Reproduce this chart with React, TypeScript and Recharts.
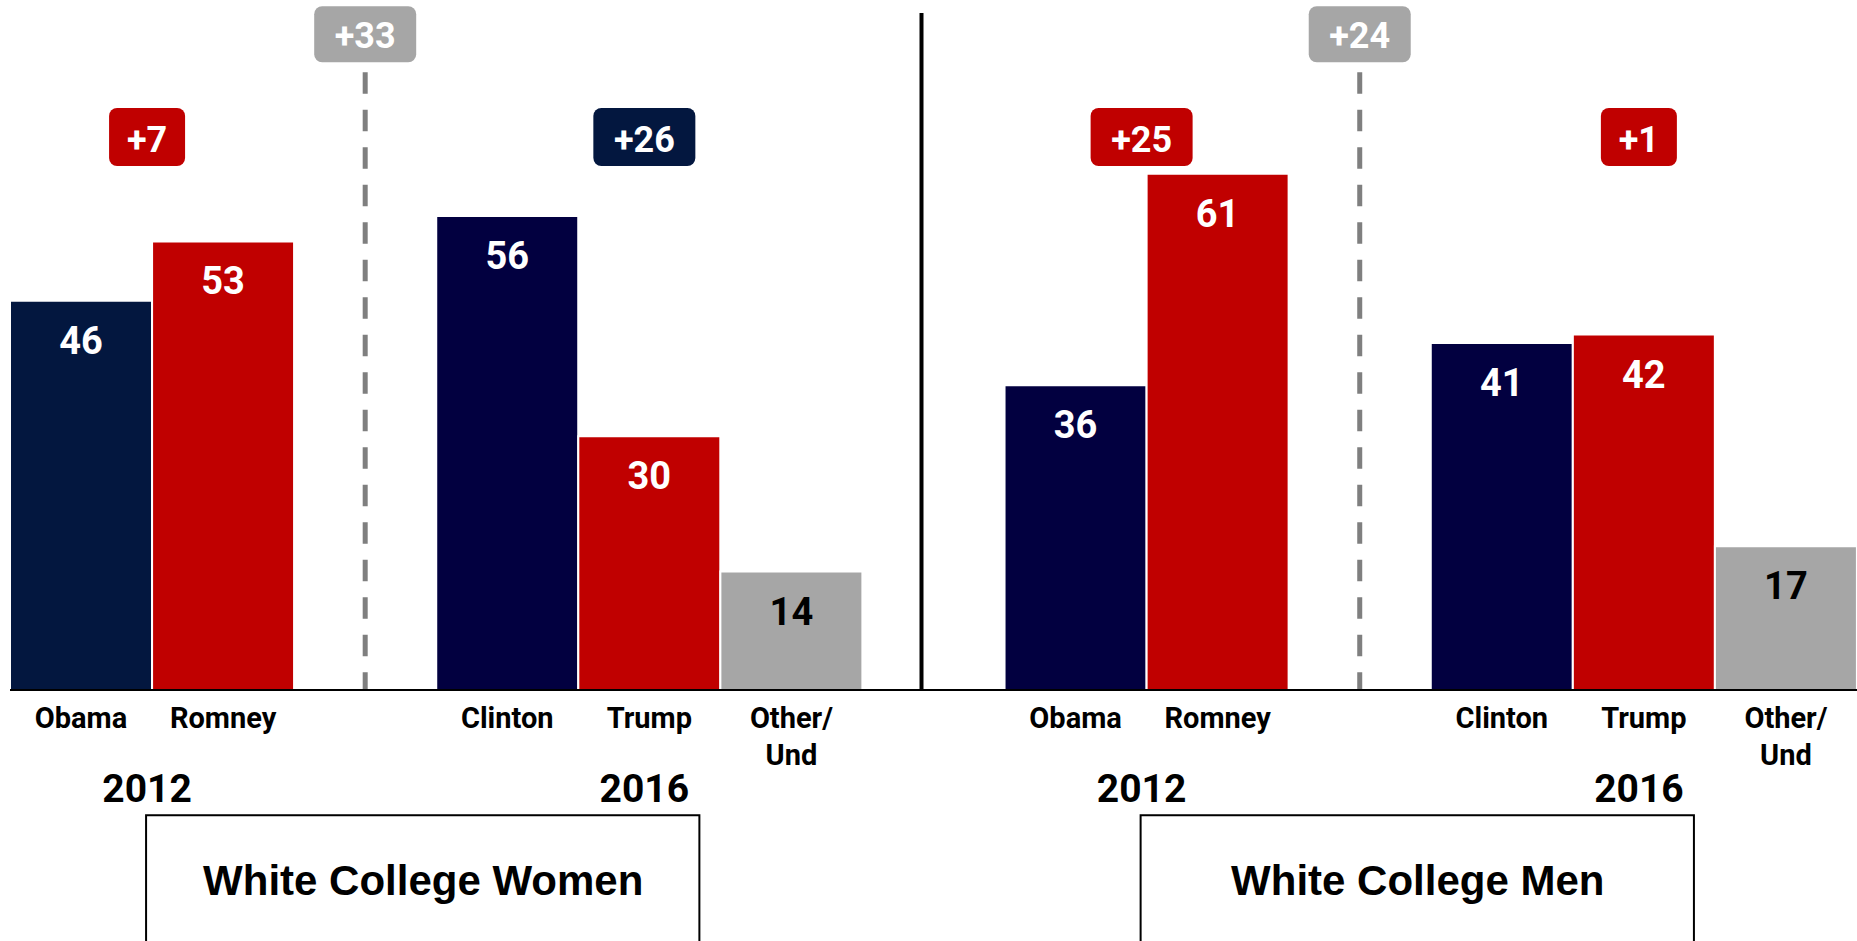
import React from 'react'
import { BarChart, Bar, Cell, XAxis, YAxis, ReferenceLine, ReferenceArea, LabelList } from 'recharts'

// share of the vote (%) among white college grads
const candidates = ['Obama', 'Romney', '', 'Clinton', 'Trump', 'Other/\nUnd']
const womenShare = [46, 53, null, 56, 30, 14]
const menShare = [36, 61, null, 41, 42, 17]
const groupNames = ['White College Women', 'White College Men']
const yearLabels = ['2012', '2016']
const marginLabels = [['+7', '+26'], ['+25', '+1']]
const marginLeader = [['R', 'D'], ['R', 'R']]
const swingLabels = ['+33', '+24']

const NAVY_OLD = '#03173F'
const NAVY = '#020040'
const RED = '#C00000'
const GRAY = '#A6A6A6'
const barColors = [
	[NAVY_OLD, RED, 'none', NAVY, RED, GRAY],
	[NAVY, RED, 'none', NAVY, RED, GRAY],
]
const FONT = 'Roboto, sans-serif'
const ARIAL = '"Liberation Sans", Arial, sans-serif'

const shares = [womenShare, menShare]
const prefix = ['w', 'm']

const rows: any[] = []
shares.forEach((vals, g) => {
	candidates.forEach((name, i) => {
		rows.push({ key: `${prefix[g]}${i}`, name, value: vals[i], color: barColors[g][i] })
	})
	if (g === 0) rows.push({ key: 'sep', name: '', value: null, color: 'none' })
})
// LabelList only walks the bars that exist
const drawn = rows.filter((r) => r.value != null)

const CandidateTick = (p: any) => {
	const row = rows.find((r) => r.key === p.payload.value)
	if (!row || !row.name) return null
	const lines = row.name.split('\n')
	return (
		<text textAnchor="middle" fontFamily={FONT} fontWeight={700} fontSize={29} fill="#000">
			{lines.map((l: string, k: number) => (
				<tspan key={k} x={p.x} y={p.y + 38 + k * 37}>{l}</tspan>
			))}
		</text>
	)
}

const ValueLabel = (p: any) => {
	const { x, y, width, value, index } = p
	if (value == null) return null
	const row = drawn[index]
	return (
		<text x={x + width / 2} y={y + 53} textAnchor="middle" fontFamily={FONT} fontWeight={700}
			fontSize={38} fill={row && row.color === GRAY ? '#000' : '#fff'}>
			{value}
		</text>
	)
}

const boxWidth = (t: string) => t.length * 26 + 24

// margin box near the top + year under the axis
const yearMark = (text: string, leader: string, year: string) => (p: any) => {
	const vb = p.viewBox
	const cx = vb.x - 5
	const w = boxWidth(text)
	return (
		<g>
			<rect x={cx - w / 2} y={vb.y + 95} width={w} height={58} rx={8} fill={leader === 'D' ? NAVY_OLD : RED} />
			<text x={cx} y={vb.y + 139} textAnchor="middle" fontFamily={FONT} fontWeight={700} fontSize={36} fill="#fff">{text}</text>
			<text x={cx} y={vb.y + vb.height + 112} textAnchor="middle" fontFamily={FONT} fontWeight={700} fontSize={39} fill="#000">{year}</text>
		</g>
	)
}

const swingMark = (text: string) => (p: any) => {
	const vb = p.viewBox
	const w = boxWidth(text)
	const top = vb.y - 66
	return (
		<g>
			<rect x={vb.x - w / 2} y={top} width={w} height={56} rx={8} fill={GRAY} />
			<text x={vb.x} y={top + 42} textAnchor="middle" fontFamily={FONT} fontWeight={700} fontSize={36} fill="#fff">{text}</text>
		</g>
	)
}

const groupTitle = (text: string) => (p: any) => {
	const vb = p.viewBox
	return (
		<text x={vb.x + vb.width / 2 - 13} y={vb.y + 80} textAnchor="middle" fontFamily={ARIAL} fontWeight={700} fontSize={42} fill="#000">{text}</text>
	)
}

const GroupBox = (p: any) => (
	<rect x={p.x - 6} y={p.y} width={p.width - 15} height={p.height} fill="#fff" stroke="#000" strokeWidth={2} />
)

const App = () => {
	return (
		<div style={{ position: 'absolute', left: 0, top: 0, background: '#fff' }}>
			<BarChart width={1857} height={941} data={rows} barCategoryGap={0}
				margin={{ top: 13, right: 0, bottom: 191, left: 10 }}>
				<XAxis dataKey="key" interval={0} height={60} tickSize={0} tickMargin={0}
					tick={<CandidateTick />} axisLine={{ stroke: '#000', strokeWidth: 2 }} tickLine={false} />
				<YAxis hide domain={[0, 80]} />
				<Bar dataKey="value" isAnimationActive={false} stroke="#fff" strokeWidth={2}>
					{rows.map((r) => <Cell key={r.key} fill={r.color} />)}
					<LabelList dataKey="value" content={<ValueLabel />} />
				</Bar>

				{/* divider between the two groups */}
				<ReferenceLine segment={[{ x: 'sep', y: 80 }, { x: 'sep', y: 0 }]} ifOverflow="visible"
					shape={(p: any) => <line x1={p.x1 - 12} y1={p.y1} x2={p.x2 - 12} y2={p.y2} stroke="#000" strokeWidth={4} />} />

				{groupNames.map((name, g) => (
					<React.Fragment key={name}>
						<ReferenceLine segment={[{ x: `${prefix[g]}2`, y: 73 }, { x: `${prefix[g]}2`, y: 0 }]}
							stroke="#7F7F7F" strokeWidth={5} strokeDasharray="21.5 16" label={swingMark(swingLabels[g])} />
						<ReferenceLine x={`${prefix[g]}1`} position="start" stroke="none"
							label={yearMark(marginLabels[g][0], marginLeader[g][0], yearLabels[0])} />
						<ReferenceLine x={`${prefix[g]}4`} position="middle" stroke="none"
							label={yearMark(marginLabels[g][1], marginLeader[g][1], yearLabels[1])} />
						<ReferenceArea x1={`${prefix[g]}1`} x2={`${prefix[g]}4`} y1={-14.8} y2={-31} ifOverflow="visible"
							shape={<GroupBox />} label={groupTitle(name)} />
					</React.Fragment>
				))}
			</BarChart>
		</div>
	)
}

export default App
